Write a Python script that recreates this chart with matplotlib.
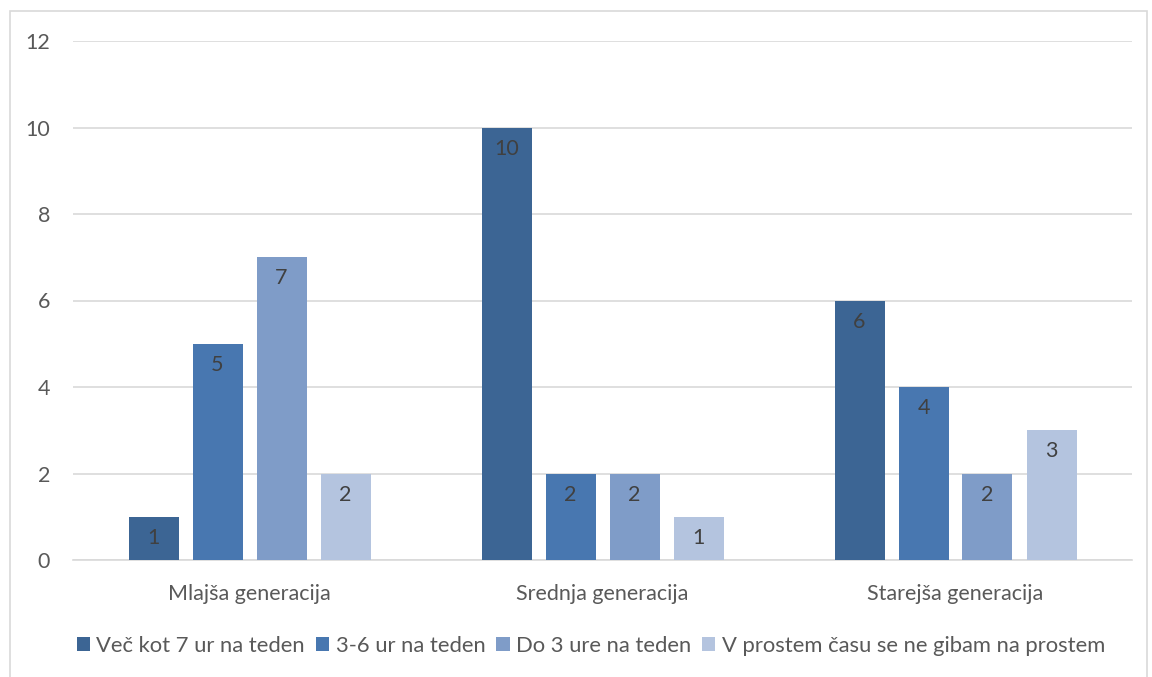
import numpy as np
import matplotlib.pyplot as plt
from matplotlib.patches import Rectangle

plt.rcParams['font.family'] = ['Lato', 'DejaVu Sans']

categories = ['Mlajša generacija', 'Srednja generacija', 'Starejša generacija']
series_names = ['Več kot 7 ur na teden', '3-6 ur na teden', 'Do 3 ure na teden',
                'V prostem času se ne gibam na prostem']
more_than_7 = [1, 10, 6]
from_3_to_6 = [5, 2, 4]
up_to_3 = [7, 2, 2]
not_outdoors = [2, 1, 3]
colors = ['#3C6594', '#4877B0', '#7F9CC8', '#B4C4DF']

series = [more_than_7, from_3_to_6, up_to_3, not_outdoors]

fig = plt.figure(figsize=(11.52, 6.77), dpi=100)
ax = fig.add_axes([73 / 1152, 1 - 560 / 677, 1059 / 1152, 519 / 677])

# light frame round the whole chart
fig.patches.append(Rectangle((10 / 1152, -0.01), 1137 / 1152, 1 - 11 / 677 + 0.01,
                             transform=fig.transFigure, fill=False,
                             edgecolor='#D9D9D9', linewidth=1.2))

x = np.arange(len(categories))
step = 64 / 353
width = 50 / 353
for i, (vals, name, col) in enumerate(zip(series, series_names, colors)):
    pos = x + (i - 1.5) * step
    bars = ax.bar(pos, vals, width, color=col, label=name, zorder=3)
    for b, v in zip(bars, vals):
        ax.annotate(str(v), (b.get_x() + b.get_width() / 2, v),
                    xytext=(0, -8), textcoords='offset points',
                    ha='center', va='top', fontsize=15.5, color='#404040', zorder=4)

ax.set_xlim(-0.5, 2.5)
ax.set_ylim(0, 12)
ax.set_yticks(range(0, 13, 2))
ax.yaxis.grid(True, color='#D9D9D9', linewidth=1.2, zorder=0)
ax.set_axisbelow(True)
for s in ['top', 'right', 'left']:
    ax.spines[s].set_visible(False)
ax.spines['bottom'].set_color('#D9D9D9')
ax.spines['bottom'].set_linewidth(1.2)
ax.tick_params(axis='both', length=0, labelsize=15.5, colors='#595959')
ax.tick_params(axis='y', pad=16.5)
ax.tick_params(axis='x', pad=17)
ax.set_xticks(x)
ax.set_xticklabels(categories)

fig.legend(loc='center', bbox_to_anchor=(591 / 1152, 1 - 646 / 677), ncol=4,
           frameon=False, fontsize=15.8, labelcolor='#595959',
           handlelength=0.6, handleheight=0.6, handletextpad=0.3, columnspacing=0.5)

fig.savefig('out.png', dpi=100)
